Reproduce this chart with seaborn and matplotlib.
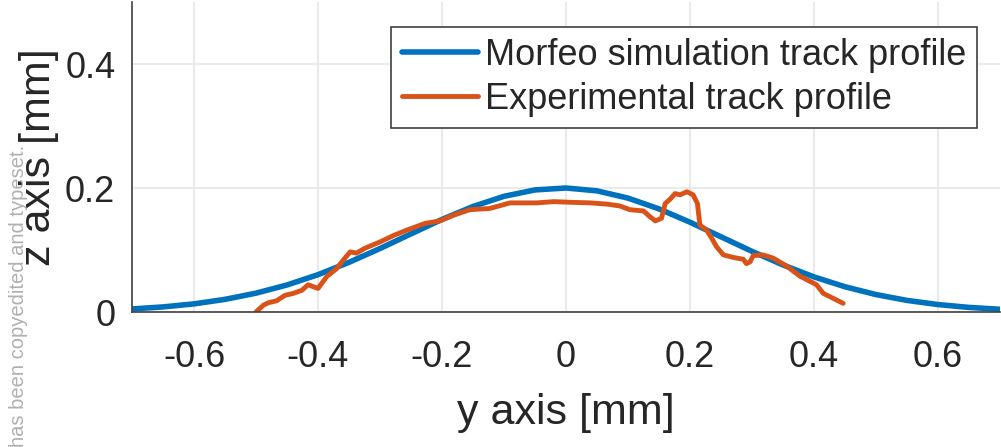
import matplotlib
matplotlib.use("Agg")
import matplotlib.pyplot as plt
import seaborn as sns
import pandas as pd

# 시뮬레이션 곡선 (Morfeo)
sim_y_mm = [-0.70, -0.65, -0.60, -0.55, -0.50, -0.45, -0.40, -0.35, -0.30, -0.25,
            -0.20, -0.15, -0.10, -0.05, 0.00, 0.05, 0.10, 0.15, 0.20, 0.25,
            0.30, 0.35, 0.40, 0.45, 0.50, 0.55, 0.60, 0.65, 0.70]
sim_z_mm = [0.0049, 0.0082, 0.0131, 0.0204, 0.0304, 0.0436, 0.0602, 0.0801, 0.1024, 0.1260,
            0.1493, 0.1702, 0.1866, 0.1969, 0.2000, 0.1954, 0.1837, 0.1663, 0.1448, 0.1213,
            0.0978, 0.0759, 0.0566, 0.0407, 0.0281, 0.0187, 0.0120, 0.0074, 0.0044]

# 실험 측정 곡선
exp_y_mm = [-0.500, -0.488, -0.480, -0.467, -0.453, -0.440, -0.426, -0.416, -0.400, -0.386,
            -0.370, -0.359, -0.348, -0.338, -0.324, -0.300, -0.279, -0.257, -0.227, -0.203,
            -0.182, -0.155, -0.123, -0.090, -0.047, -0.020, 0.006, 0.039, 0.066, 0.087,
            0.103, 0.125, 0.135, 0.144, 0.154, 0.160, 0.168, 0.176, 0.184, 0.195,
            0.205, 0.212, 0.216, 0.227, 0.235, 0.243, 0.254, 0.270, 0.286, 0.291,
            0.297, 0.302, 0.318, 0.334, 0.356, 0.377, 0.404, 0.415, 0.431, 0.447]
exp_z_mm = [0.000, 0.011, 0.015, 0.018, 0.027, 0.030, 0.035, 0.044, 0.038, 0.057,
            0.070, 0.084, 0.097, 0.095, 0.103, 0.113, 0.123, 0.132, 0.143, 0.147,
            0.156, 0.165, 0.167, 0.176, 0.176, 0.178, 0.177, 0.176, 0.174, 0.171,
            0.165, 0.163, 0.154, 0.147, 0.151, 0.175, 0.182, 0.191, 0.189, 0.194,
            0.189, 0.175, 0.140, 0.132, 0.119, 0.105, 0.092, 0.088, 0.085, 0.078,
            0.081, 0.091, 0.092, 0.087, 0.074, 0.058, 0.044, 0.030, 0.022, 0.014]

labels = ['Morfeo simulation track profile', 'Experimental track profile']
colors = ['#0072BD', '#D95319']

sim_df = pd.DataFrame({'y': sim_y_mm, 'z': sim_z_mm})
exp_df = pd.DataFrame({'y': exp_y_mm, 'z': exp_z_mm})

sns.set_style("whitegrid")
plt.rcParams['font.family'] = ['Liberation Sans', 'DejaVu Sans']

fig = plt.figure(figsize=(10.01, 4.47), dpi=100)
ax = fig.add_axes([132 / 1001, 135 / 447, 868 / 1001, 310 / 447])

sns.lineplot(data=sim_df, x='y', y='z', ax=ax, color=colors[0], linewidth=4,
             label=labels[0], sort=False)
sns.lineplot(data=exp_df, x='y', y='z', ax=ax, color=colors[1], linewidth=3.5,
             label=labels[1], sort=False)

ax.set_xlim(-0.7, 0.7)
ax.set_ylim(0, 0.5)
ax.set_xticks([-0.6, -0.4, -0.2, 0, 0.2, 0.4, 0.6])
ax.set_xticklabels(['-0.6', '-0.4', '-0.2', '0', '0.2', '0.4', '0.6'])
ax.set_yticks([0, 0.2, 0.4])
ax.set_yticklabels(['0', '0.2', '0.4'])
ax.tick_params(axis='both', direction='in', length=8, width=1.2, colors='#404040',
               labelsize=26, labelcolor='#262626')
ax.tick_params(axis='x', pad=20)
ax.tick_params(axis='y', pad=12)
ax.grid(True, color='#e6e6e6', linewidth=1.2)

for side in ['top', 'right']:
    ax.spines[side].set_visible(False)
for side in ['left', 'bottom']:
    ax.spines[side].set_color('#404040')
    ax.spines[side].set_linewidth(1.2)

ax.set_xlabel('y axis [mm]', fontsize=31, color='#262626', labelpad=13)
ax.set_ylabel('z axis [mm]', fontsize=31, color='#262626')
ax.yaxis.set_label_coords(-0.084, 0.5)

leg = ax.legend(loc='upper right', bbox_to_anchor=(0.9735, 0.919), borderaxespad=0,
                fontsize=26, frameon=True, fancybox=False, handlelength=2.1,
                handletextpad=0.2, borderpad=0.3, labelspacing=0.25)
leg.get_frame().set_edgecolor('#404040')
leg.get_frame().set_linewidth(1.2)
leg.get_frame().set_alpha(1)

fig.text(19 / 1001, 1 - 145 / 447, 'has been copyedited and typeset.', rotation=90,
         ha='center', va='top', fontsize=14.5, color='#b0b0b0')

fig.savefig('out.png', dpi=100)
